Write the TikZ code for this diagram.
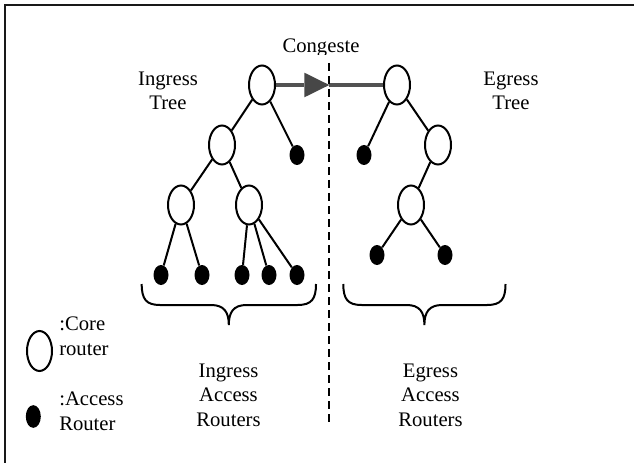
\documentclass[tikz,border=0pt]{standalone}
\usepackage{fontspec}
\setmainfont{Liberation Serif}
\usetikzlibrary{shapes.geometric,arrows.meta}
\begin{document}
\begin{tikzpicture}[x=0.75pt,y=-0.75pt,
  core/.style={ellipse,draw=black,line width=1.5pt,fill=white,inner sep=0pt,minimum width=19.5pt,minimum height=29.25pt},
  acc/.style={ellipse,fill=black,inner sep=0pt,minimum width=11.25pt,minimum height=15pt},
  link/.style={line width=1.5pt,black},
  lbl/.style={font=\fontsize{15.5}{18.4}\selectfont,inner sep=0pt,align=center},
  lgd/.style={font=\fontsize{15.5}{18.4}\selectfont,inner sep=0pt,align=left,anchor=north west},
  fwd/.style={line width=3pt,draw=black!68},
  cut/.style={line width=1.5pt,dash pattern=on 6pt off 3.75pt},
  bracepath/.style={line width=1.5pt,black},
  framepath/.style={line width=1.6pt,black!90}]
\useasboundingbox (0,0) rectangle (634,463);
\draw[framepath] (5,463) -- (5,5) -- (634,5);

% ingress tree
\node[core] (ir) at (262,85) {};
\node[core] (i2) at (222,145) {};
\node[acc]  (ia) at (297,155) {};
\node[core] (i3l) at (181,205) {};
\node[core] (i3r) at (249,205) {};
\node[acc] (il1) at (161,275) {};
\node[acc] (il2) at (202,275) {};
\node[acc] (il3) at (242,275) {};
\node[acc] (il4) at (269,275) {};
\node[acc] (il5) at (297,275) {};
\draw[link] (ir) -- (i2);
\draw[link] (ir) -- (ia);
\draw[link] (i2) -- (i3l);
\draw[link] (i2) -- (i3r);
\draw[link] (i3l) -- (il1);
\draw[link] (i3l) -- (il2);
\draw[link] (i3r) -- (il3);
\draw[link] (i3r) -- (il4);
\draw[link] (i3r) -- (il5);

% egress tree
\node[core] (er) at (397,85) {};
\node[acc]  (ea) at (364,155) {};
\node[core] (e2) at (438,145) {};
\node[core] (e3) at (411,205) {};
\node[acc] (el1) at (377,255) {};
\node[acc] (el2) at (445,255) {};
\draw[link] (er) -- (ea);
\draw[link] (er) -- (e2);
\draw[link] (e2) -- (e3);
\draw[link] (e3) -- (el1);
\draw[link] (e3) -- (el2);

% congested link
\coordinate (tip) at (329.3,85);
\draw[fwd,-{Triangle[length=18.75pt,width=18.5pt,fill=black!72,color=black!72,line width=0pt]}] (ir.east) -- (tip);
\draw[fwd] (tip) -- (er.west);

% separation line
\coordinate (dtop) at (329.3,63);
\coordinate (dbot) at (329.3,422);
\draw[cut] (dtop) -- (dbot);

% braces
\draw[bracepath] (141.7,284) .. controls (141.7,299) and (146,305) .. (160,305)
  -- (211,305) .. controls (224,305) and (228.8,312) .. (228.8,325)
  .. controls (228.8,312) and (233.6,305) .. (246.6,305)
  -- (297.6,305) .. controls (311.6,305) and (316,299) .. (316,284);
\draw[bracepath] (343.3,284) .. controls (343.3,299) and (347.6,305) .. (361.6,305)
  -- (406.6,305) .. controls (419.6,305) and (424.4,312) .. (424.4,325)
  .. controls (424.4,312) and (429.2,305) .. (442.2,305)
  -- (487.2,305) .. controls (501.2,305) and (505.5,299) .. (505.5,284);

% labels
\begin{scope}
\clip (250,20) rectangle (400,54.5);
\node[lbl,anchor=base] (cong) at (321,53) {Congeste};
\end{scope}
\node[lbl,anchor=north] (itree) at (168,71.5) {Ingress\\Tree};
\node[lbl,anchor=north] (etree) at (511,71.5) {Egress\\Tree};
\node[lbl,anchor=north] (iacc) at (228.5,363.5) {Ingress\\Access\\Routers};
\node[lbl,anchor=north] (eacc) at (430.5,363.5) {Egress\\Access\\Routers};

% legend
\node[core,minimum width=18.75pt,minimum height=30pt] (lcore) at (39.5,351) {};
\node[lgd] (lcoret) at (59,317) {:Core\\router};
\node[acc,minimum height=17pt] (lacc) at (33.3,416.5) {};
\node[lgd] (lacct) at (59,392) {:Access\\Router};
\end{tikzpicture}
\end{document}
